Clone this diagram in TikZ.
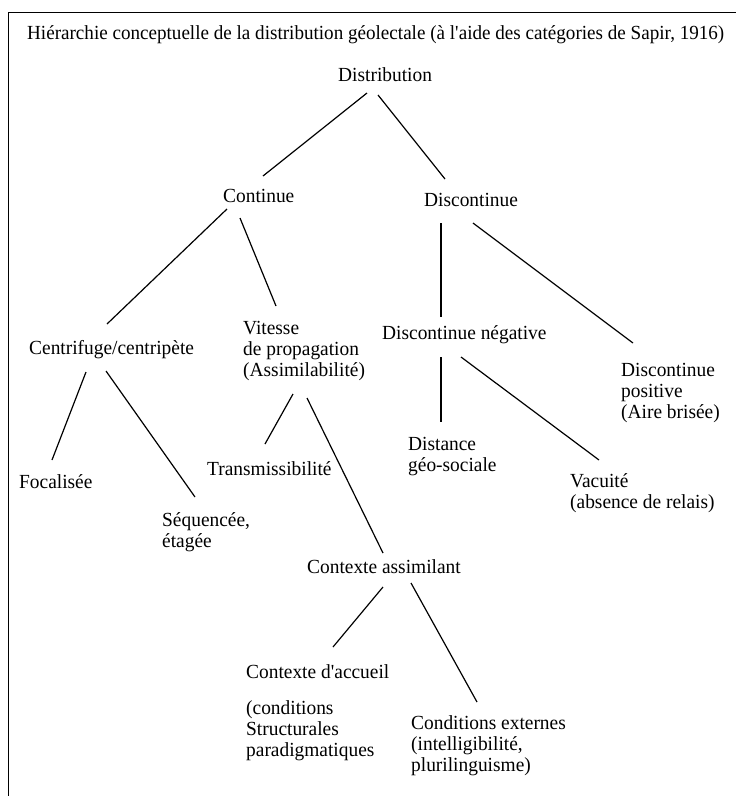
\documentclass[tikz,border=0pt]{standalone}
\usepackage{fontspec}
\setmainfont{Liberation Serif}[FakeStretch=0.97]
\newfontfamily\titlefont{Liberation Serif}[FakeStretch=0.955]

\begin{document}
\begin{tikzpicture}[x=1pt,y=-1pt,
  label/.style={anchor=base west, inner sep=0pt, align=left, font=\fontsize{20}{21}\selectfont},
  branch/.style={line width=1.2pt}]

  \useasboundingbox (0,0) rectangle (736,796);

  % Frame (open at the right and at the bottom)
  \coordinate (frameBL) at (8.5,796);
  \coordinate (frameTR) at (736,12.5);
  \draw[line width=1.7pt] (frameBL) |- (frameTR);

  % Title
  \node[label, font=\titlefont\fontsize{20}{21}\selectfont] (title) at (27,39) {Hiérarchie conceptuelle de la distribution géolectale (à l\textquotesingle aide des catégories de Sapir, 1916)};

  % Define categories (multi-line labels sit on their last baseline)
  \node[label] (distr) at (338,81) {Distribution};
  \node[label] (cont) at (223,202) {Continue};
  \node[label] (disc) at (424,206) {Discontinue};
  \node[label] (centr) at (29,354) {Centrifuge/centripète};
  \node[label] (vit) at (243,376) {Vitesse\\de propagation\\(Assimilabilité)};
  \node[label] (dneg) at (382,339) {Discontinue négative};
  \node[label] (dpos) at (621,418) {Discontinue\\positive\\(Aire brisée)};
  \node[label] (foc) at (19,488) {Focalisée};
  \node[label] (trans) at (207,475) {Transmissibilité};
  \node[label] (seq) at (162,547) {Séquencée,\\étagée};
  \node[label] (dist) at (408,471) {Distance\\géo-sociale};
  \node[label] (vac) at (570,508) {Vacuité\\(absence de relais)};
  \node[label] (cass) at (307,573) {Contexte assimilant};
  \node[label] (cacc) at (246,756) {Contexte d\textquotesingle accueil\\[15pt](conditions\\Structurales\\paradigmatiques};
  \node[label] (cext) at (411,771) {Conditions externes\\(intelligibilité,\\plurilinguisme)};

  % Branches
  \draw[branch] ([shift={(29,12)}]distr.base west) -- ([shift={(40,-26)}]cont.base west);
  \draw[branch] ([shift={(40,14)}]distr.base west) -- ([shift={(21,-27)}]disc.base west);
  \draw[branch] ([shift={(4,7)}]cont.base west) -- ([shift={(78,-30)}]centr.base west);
  \draw[branch] ([shift={(17,16)}]cont.base west) -- ([shift={(33,-70)}]vit.base west);
  \draw[branch] ([shift={(17,17)}]disc.base west) -- ([shift={(59,-22)}]dneg.base west);
  \draw[branch] ([shift={(49,17)}]disc.base west) -- ([shift={(12,-75)}]dpos.base west);
  \draw[branch] ([shift={(57,18)}]centr.base west) -- ([shift={(33,-28)}]foc.base west);
  \draw[branch] ([shift={(77,17)}]centr.base west) -- ([shift={(33,-50)}]seq.base west);
  \draw[branch] ([shift={(50,18)}]vit.base west) -- ([shift={(58,-31)}]trans.base west);
  \draw[branch] ([shift={(64,22)}]vit.base west) -- ([shift={(76,-20)}]cass.base west);
  \draw[branch] ([shift={(59,18)}]dneg.base west) -- ([shift={(33,-49)}]dist.base west);
  \draw[branch] ([shift={(79,18)}]dneg.base west) -- ([shift={(29,-48)}]vac.base west);
  \draw[branch] ([shift={(76,14)}]cass.base west) -- ([shift={(87,-109)}]cacc.base west);
  \draw[branch] ([shift={(104,10)}]cass.base west) -- ([shift={(66,-69)}]cext.base west);

\end{tikzpicture}
\end{document}
